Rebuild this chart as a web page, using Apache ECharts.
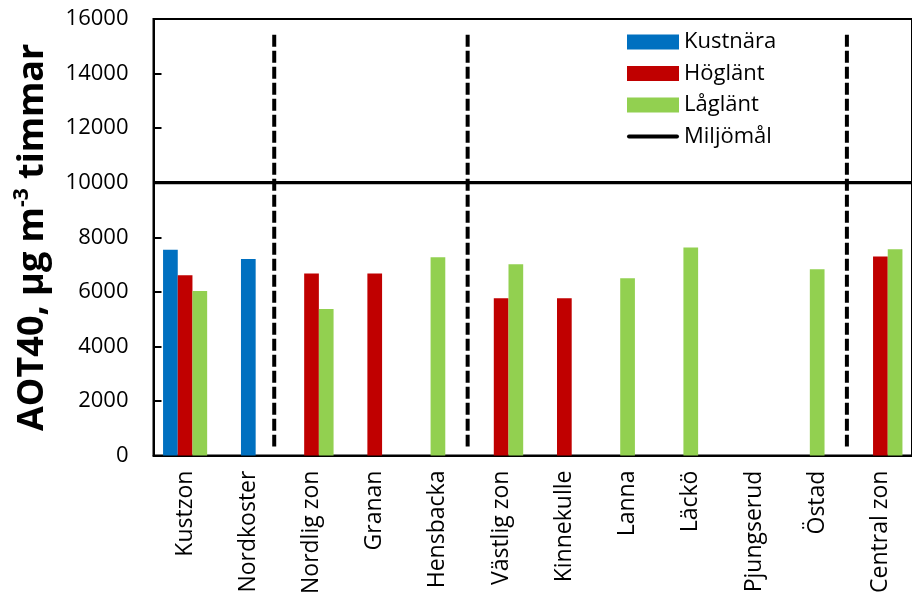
<!DOCTYPE html>
<html>
<head>
<meta charset="utf-8">
<script src="https://cdn.jsdelivr.net/npm/echarts@6/dist/echarts.min.js"></script>
<style>html,body{margin:0;padding:0;background:#fff}#c{width:912px;height:597px}</style>
</head>
<body>
<div id="c"></div>
<script>
// ---- data ----
var categories = ['Kustzon','Nordkoster','Nordlig zon','Granan','Hensbacka','Västlig zon','Kinnekulle','Lanna','Läckö','Pjungserud','Östad','Central zon'];
// left slot (Kustnära)
var kustnaraLeft = [7540, null, null, null, null, null, null, null, null, null, null, null];
// middle slot
var hoglantMid   = [6610, null, 6670, 6670, null, 5770, 5770, null, null, null, null, 7300];
var kustnaraMid  = [null, 7200, null, null, null, null, null, null, null, null, null, null];
var laglantMid   = [null, null, null, null, 7270, null, null, 6500, 7630, null, 6830, null];
// right slot (Låglänt)
var laglantRight = [6030, null, 5370, null, null, 7010, null, null, null, null, null, 7560];
var miljomal = 10000;
var yTicks = [0, 2000, 4000, 6000, 8000, 10000, 12000, 14000, 16000];
// dashed dividers: positions in category units (0 = left edge of plot)
var dividerX = [1.91, 4.97, 10.97];
var dividerY = [330, 15420];

var FONT = 'Open Sans';
var BLUE = '#0070C0', RED = '#C00000', GREEN = '#92D050';

var chart = echarts.init(document.getElementById('c'), null, {renderer: 'canvas'});

function bar(name, data, color, stack) {
  var s = {
    name: name, type: 'bar', data: data, xAxisIndex: 0, yAxisIndex: 0,
    barWidth: 14.7, barGap: '0%',
    itemStyle: {color: color},
    emphasis: {disabled: true}
  };
  if (stack) s.stack = stack;
  return s;
}

var series = [
  bar('Kustnära', kustnaraLeft, BLUE),
  bar('Höglänt', hoglantMid, RED, 'mid'),
  bar('Kustnära', kustnaraMid, BLUE, 'mid'),
  bar('Låglänt', laglantMid, GREEN, 'mid'),
  bar('Låglänt', laglantRight, GREEN),
  {
    name: 'Miljömål', type: 'line', xAxisIndex: 1, yAxisIndex: 0,
    data: [[0, miljomal], [12, miljomal]],
    symbol: 'none', lineStyle: {color: '#000', width: 3.2}, itemStyle: {color: '#000'},
    z: 5, emphasis: {disabled: true}
  }
];
dividerX.forEach(function (x) {
  series.push({
    name: 'divider', type: 'line', xAxisIndex: 1, yAxisIndex: 0,
    data: [[x, dividerY[1]], [x, dividerY[0]]],
    symbol: 'none', lineStyle: {color: '#000', width: 4, type: [12, 4]},
    z: 6, silent: true
  });
});

chart.setOption({
  animation: false,
  textStyle: {fontFamily: FONT},
  grid: {left: 153.5, top: 19, width: 768, height: 438, show: true, borderColor: '#000', borderWidth: 2, backgroundColor: 'transparent'},
  legend: {
    data: [
      {name: 'Kustnära', icon: 'rect'},
      {name: 'Höglänt', icon: 'rect'},
      {name: 'Låglänt', icon: 'rect'},
      {name: 'Miljömål', icon: 'path://M2,0L50,0A2,2,0,0,1,50,4L2,4A2,2,0,0,1,2,0Z'}
    ],
    orient: 'vertical', left: 622, top: 26,
    itemWidth: 52, itemHeight: 15, itemGap: 9.5,
    textStyle: {fontFamily: FONT, fontSize: 22, color: '#000'},
    selectedMode: false
  },
  xAxis: [{
    type: 'category', data: categories, gridIndex: 0,
    axisLine: {lineStyle: {color: '#000', width: 2}},
    axisTick: {show: false},
    axisLabel: {rotate: 90, margin: 15, fontFamily: FONT, fontSize: 23, color: '#000', interval: 0}
  }, {
    type: 'value', min: 0, max: 12, show: false, gridIndex: 0
  }],
  yAxis: {
    type: 'value', min: yTicks[0], max: yTicks[yTicks.length - 1], interval: yTicks[1] - yTicks[0],
    axisLine: {show: true, lineStyle: {color: '#000', width: 2}},
    axisTick: {show: true, inside: true, length: 8, lineStyle: {color: '#000', width: 2}},
    splitLine: {show: false},
    axisLabel: {margin: 25, fontFamily: FONT, fontSize: 22, color: '#000', formatter: function (v) { return String(v); }},
    name: '{a|AOT40, µg m}{s|-3}{a| timmar}',
    nameLocation: 'middle', nameGap: 100, nameRotate: 90,
    nameTextStyle: {
      rich: {
        a: {fontFamily: FONT, fontWeight: 'bold', fontSize: 36, color: '#000', lineHeight: 42},
        s: {fontFamily: FONT, fontWeight: 'bold', fontSize: 21, color: '#000', verticalAlign: 'top', lineHeight: 42, padding: [0, 0, 14, 0]}
      }
    }
  },
  series: series
});
</script>
</body>
</html>
